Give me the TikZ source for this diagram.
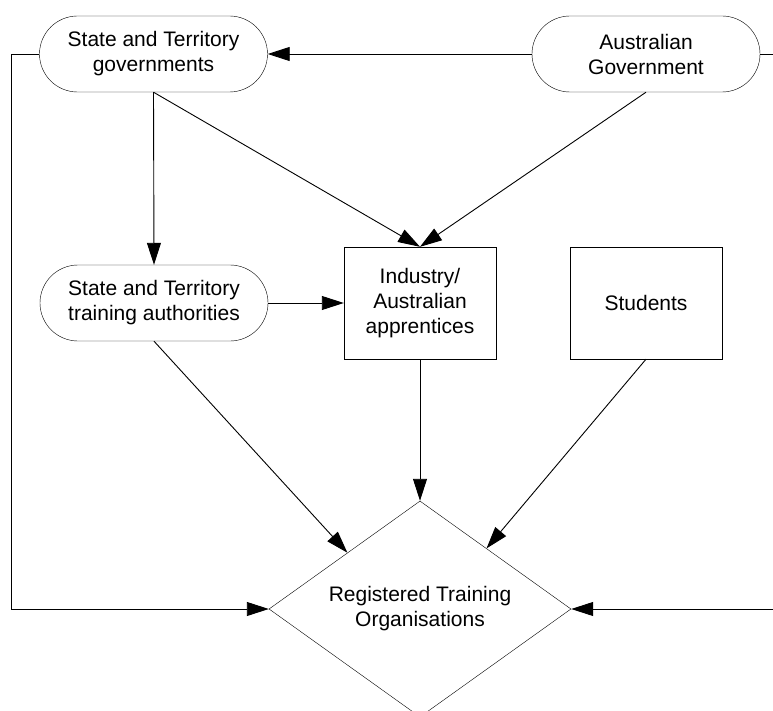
\documentclass[tikz,border=0pt]{standalone}
\usepackage{fontspec}
\setmainfont{Liberation Sans}
\usetikzlibrary{arrows.meta,shapes.geometric,calc}
\begin{document}
\begin{tikzpicture}[x=1pt,y=-1pt,
  every node/.style={font=\fontsize{21pt}{25pt}\selectfont, align=center, inner sep=0pt},
  stadium/.style={draw, rounded corners=38pt, minimum width=228pt, minimum height=76pt},
  boxnode/.style={draw, minimum width=152pt, minimum height=112pt},
  decision/.style={draw, diamond, aspect=1.4, minimum width=302pt, minimum height=216pt},
  conn/.style={line width=0.9pt, -{Triangle[length=22pt,width=14pt]}},
  line/.style={line width=0.9pt}
]
\useasboundingbox (0,0) rectangle (773,711);
\node[stadium] (stg) at (153.5,54) {State and Territory\\governments};
\node[stadium] (ag) at (646,54) {Australian\\Government};
\node[stadium] (sta) at (154,303) {State and Territory\\training authorities};
\node[boxnode] (ind) at (420,303) {Industry/\\Australian\\apprentices};
\node[boxnode] (stu) at (646,303) {Students};
\node[decision] (rto) at (420,609) {Registered Training\\Organisations};
\coordinate (lt) at (11,54);
\coordinate (lb) at (11,609);
\coordinate (rt) at (774,54);
\coordinate (rb) at (774,609);
\draw[conn] (ag.west) -- (stg.east);
\draw[conn] (stg.south) -- (sta.north);
\draw[conn] (stg.south) -- (ind.north);
\draw[conn] (ag.south) -- (ind.north);
\draw[conn] (sta.east) -- (ind.west);
\draw[conn] (sta.south) -- ($(rto.west)!0.52!(rto.north)$);
\draw[conn] (ind.south) -- (rto.north);
\draw[conn] (stu.south) -- ($(rto.north)!0.44!(rto.east)$);
\draw[conn] (stg.west) -- (lt) -- (lb) -- (rto.west);
\draw[conn] (ag.east) -- (rt) -- (rb) -- (rto.east);
\end{tikzpicture}
\end{document}
